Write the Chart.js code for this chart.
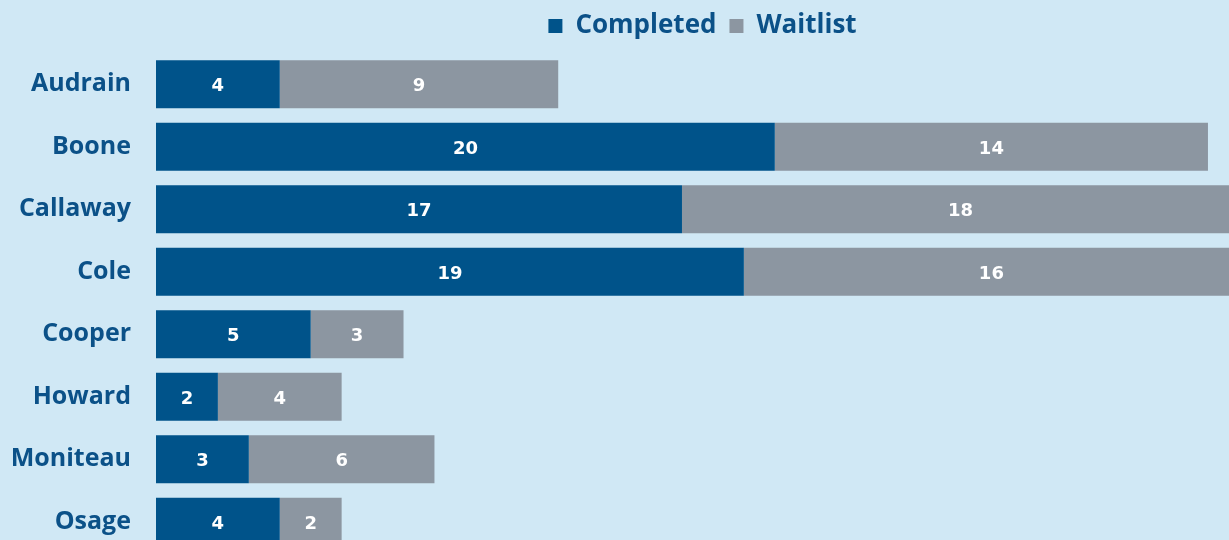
<!DOCTYPE html>
<html><head><meta charset="utf-8">
<script src="https://cdn.jsdelivr.net/npm/chart.js@4"></script>
<style>
html,body{margin:0;padding:0;background:#d0e8f5;overflow:hidden;}
canvas{display:block;}
</style></head><body>
<canvas id="c" width="1229" height="568"></canvas>
<script>
const categories = ["Audrain","Boone","Callaway","Cole","Cooper","Howard","Moniteau","Osage"];
const completed = [4,20,17,19,5,2,3,4];
const waitlist = [9,14,18,16,3,4,6,2];
const seriesNames = ["Completed","Waitlist"];

const labelPlugin = {
  id:'barLabels',
  afterDatasetsDraw(chart){
    const ctx = chart.ctx;
    ctx.save();
    ctx.fillStyle = '#ffffff';
    ctx.font = 'bold 18px "DejaVu Sans", sans-serif';
    ctx.textAlign = 'center';
    ctx.textBaseline = 'middle';
    chart.data.datasets.forEach((ds,i)=>{
      chart.getDatasetMeta(i).data.forEach((bar,j)=>{
        const p = bar.getProps(['x','y','base'],true);
        const cx = (p.x + p.base)/2;
        ctx.fillText(String(ds.data[j]), cx, p.y + 2.5);
      });
    });
    ctx.restore();
  }
};
const legendSpace = {
  id:'legendSpace',
  beforeInit(chart){
    const lg = chart.legend;
    if(!lg) return;
    const fit = lg.fit;
    lg.fit = function(){ fit.call(lg); lg.height += 4; };
  },
  afterLayout(chart){
    const lg = chart.legend;
    if(!lg) return;
    lg.left += 10; lg.right += 10;
  }
};

new Chart(document.getElementById('c'),{
  type:'bar',
  data:{
    labels:categories,
    datasets:[
      {label:seriesNames[0],data:completed,backgroundColor:'#00538a'},
      {label:seriesNames[1],data:waitlist,backgroundColor:'#8c96a1'}
    ]
  },
  options:{
    indexAxis:'y',
    responsive:false,
    animation:false,
    layout:{padding:{left:0,right:0,top:0,bottom:0}},
    datasets:{bar:{barPercentage:0.77,categoryPercentage:1}},
    scales:{
      x:{stacked:true,display:false,min:0,max:34.68},
      y:{stacked:true,
        grid:{display:false,drawTicks:true,tickLength:25,tickColor:'rgba(0,0,0,0)'},
        border:{display:false},
        ticks:{color:'#0b5188',font:{family:'"Open Sans", sans-serif',size:25,weight:'bold'},padding:0},
        afterFit(s){s.width=156;}
      }
    },
    plugins:{
      legend:{position:'top',fullSize:false,
        labels:{boxWidth:14,boxHeight:14,padding:13,color:'#0b5188',
          font:{family:'"Open Sans", sans-serif',size:26,weight:'bold'}}
      },
      tooltip:{enabled:false}
    }
  },
  plugins:[labelPlugin,legendSpace]
});
</script>
</body></html>
